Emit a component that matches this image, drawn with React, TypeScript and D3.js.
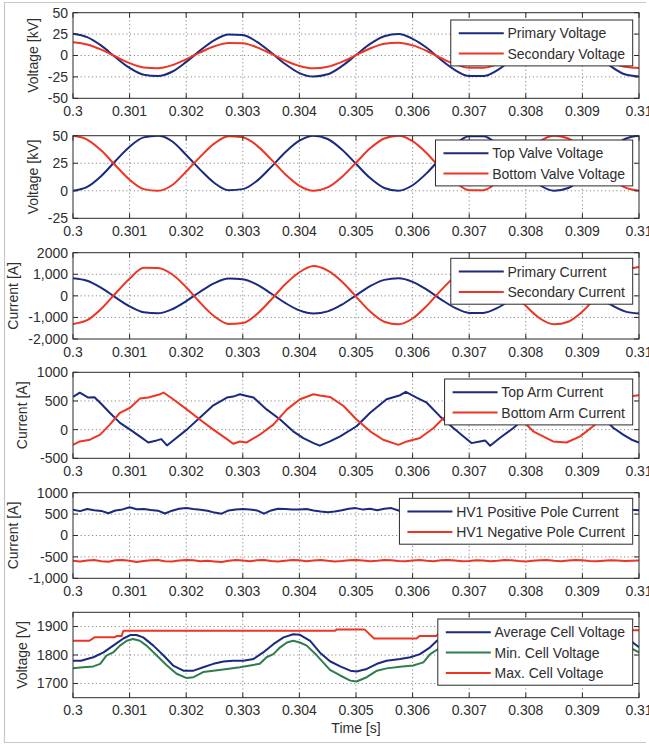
import * as d3 from "d3";
import React, { useEffect, useRef } from "react";

// time grids (s)
const tGrid41 = d3.range(41).map((i) => 0.3 + i * 0.00025);
const tGrid81 = d3.range(81).map((i) => 0.3 + i * 0.000125);

const xTicks = [0.3, 0.301, 0.302, 0.303, 0.304, 0.305, 0.306, 0.307, 0.308, 0.309, 0.31];
const xTickLabels = ["0.3", "0.301", "0.302", "0.303", "0.304", "0.305", "0.306", "0.307", "0.308", "0.309", "0.31"];

// panel 1 - kV
const primaryVoltage = [25.5, 21.5, 11.5, -2, -14.5, -22.5, -24, -19, -7.5, 6, 18, 24.5, 24, 16, 3.5, -10, -20.5, -24.5, -22, -12.5, 0.5, 13.5, 22.5, 25, 19.5, 9, -5, -17, -24, -24, -17, -5, 9, 19.5, 25, 22.5, 13.5, 0.5, -12.5, -22, -24.5];
const secondaryVoltage = [15.5, 12.8, 6.8, -1.2, -8.9, -13.9, -14.8, -11.3, -4.5, 3.7, 10.8, 14.6, 14.2, 9.5, 2.1, -6, -12.3, -15, -13.2, -7.5, 0.4, 8.2, 13.6, 14.9, 11.8, 5.3, -2.9, -10.2, -14.4, -14.4, -10.2, -2.9, 5.3, 11.8, 14.9, 13.6, 8.2, 0.4, -7.5, -13.2, -14.5];

// panel 2 - kV
const topValveVoltage = [0, 3.5, 13.5, 27, 40, 48.5, 50, 45, 32.5, 19, 7, 0.5, 1.5, 9, 21.5, 35, 45.5, 50, 47, 37.5, 24.5, 11.5, 2.5, 0, 5, 16, 30, 42, 49.5, 49.5, 42, 30, 16, 5, 0, 2.5, 11.5, 24, 37.5, 47, 50];
const bottomValveVoltage = [50, 46.5, 36.5, 23, 10, 1.5, 0, 5, 17.5, 31, 43, 49.5, 48.5, 41, 28.5, 15, 4.5, 0, 3, 12.5, 25.5, 38.5, 47.5, 50, 45, 34, 20, 8, 0.5, 0.5, 8, 20, 34, 45, 50, 47.5, 38.5, 26, 12.5, 3, 0];

// panel 3 - A
const primaryCurrent = [820, 700, 370, -70, -485, -760, -810, -620, -245, 200, 590, 800, 775, 520, 110, -330, -675, -820, -720, -410, 25, 450, 740, 815, 650, 285, -160, -555, -790, -790, -555, -160, 285, 650, 815, 740, 450, 25, -410, -720, -820];
const secondaryCurrent = [-1300, -1130, -600, 110, 790, 1300, 1290, 1000, 400, -325, -955, -1300, -1260, -845, -180, 535, 1095, 1380, 1170, 665, -35, -730, -1200, -1320, -1050, -465, 255, 900, 1280, 1280, 900, 255, -465, -1050, -1320, -1200, -730, -35, 665, 1170, 1340];

// panel 4 - A, [t, value]
const topArmCurrent: [number, number][] = [
  [0.3, 570], [0.30012, 645], [0.30027, 560], [0.30038, 565], [0.30048, 470], [0.30065, 294], [0.30083, 118],
  [0.30101, 0], [0.30118, -118], [0.30133, -224], [0.30148, -188], [0.30156, -165], [0.30166, -276], [0.30177, -188],
  [0.30201, 0], [0.30224, 206], [0.30248, 424], [0.30272, 559], [0.30283, 576], [0.30295, 618], [0.30307, 588],
  [0.30319, 559], [0.30342, 353], [0.30366, 176], [0.30389, -29], [0.30407, -147], [0.30425, -235], [0.30436, -279],
  [0.30454, -206], [0.30472, -118], [0.30501, 59], [0.30525, 294], [0.30554, 529], [0.30578, 600], [0.30588, 659],
  [0.30607, 559], [0.30625, 470], [0.30648, 235], [0.30672, 29], [0.3069, -118], [0.30704, -235], [0.30719, -206],
  [0.30728, -188], [0.30737, -282], [0.30754, -147], [0.30778, 29], [0.3081, 300], [0.3084, 520], [0.3087, 610],
  [0.3089, 580], [0.3091, 420], [0.30935, 220], [0.30955, 29], [0.30972, -88], [0.30987, -176], [0.31, -224],
];
const bottomArmCurrent: [number, number][] = [
  [0.3, -265], [0.30012, -206], [0.3003, -176], [0.30048, -88], [0.30065, 88], [0.30083, 294], [0.30101, 382],
  [0.30118, 541], [0.30133, 559], [0.30154, 618], [0.3016, 647], [0.30177, 529], [0.30201, 353], [0.30224, 176],
  [0.30248, 0], [0.30272, -165], [0.30283, -247], [0.30295, -206], [0.30307, -224], [0.3033, -88], [0.30354, 88],
  [0.30378, 353], [0.30401, 529], [0.30425, 618], [0.30436, 595], [0.30454, 570], [0.30478, 412], [0.30501, 176],
  [0.30525, -29], [0.30548, -176], [0.30575, -265], [0.3059, -206], [0.30613, -147], [0.30637, 29], [0.30652, 176],
  [0.3068, 400], [0.3071, 580], [0.3073, 630], [0.3075, 560], [0.3078, 300], [0.30813, -29], [0.30848, -206],
  [0.30872, -224], [0.30896, -118], [0.30919, 59], [0.30945, 300], [0.30965, 500], [0.30989, 588], [0.31, 600],
];

// panel 5 - A
const posPoleCurrent = [
  605, 570, 620, 590, 575, 520, 585, 610, 660, 615,
  620, 595, 580, 515, 580, 625, 645, 620, 600, 580,
  535, 510, 585, 610, 620, 605, 585, 510, 585, 625,
  620, 605, 610, 620, 585, 560, 545, 560, 590, 625,
  640, 605, 625, 590, 625, 640, 585, 540, 530, 590,
  610, 580, 620, 600, 570, 610, 620, 590, 560, 600,
  625, 610, 590, 570, 610, 620, 595, 575, 605, 625,
  600, 580, 560, 600, 615, 590, 575, 610, 620, 600,
  590,
];
const negPoleCurrent = [
  -590, -610, -585, -575, -600, -615, -580, -570, -590, -620,
  -595, -580, -575, -600, -610, -585, -570, -580, -600, -590,
  -605, -620, -590, -575, -585, -600, -580, -570, -595, -605,
  -590, -575, -580, -600, -585, -570, -590, -605, -595, -580,
  -570, -585, -600, -590, -575, -580, -595, -600, -585, -575,
  -590, -600, -580, -570, -585, -600, -595, -580, -585, -600,
  -590, -575, -580, -595, -605, -590, -580, -575, -590, -600,
  -585, -575, -580, -595, -600, -590, -580, -585, -595, -590,
  -585,
];

// panel 6 - V, [t, value]
const avgCellVoltage: [number, number][] = [
  [0.3, 1780], [0.30014, 1780], [0.30036, 1792], [0.30054, 1809], [0.30071, 1833], [0.30089, 1858], [0.30101, 1870],
  [0.30112, 1870], [0.30124, 1862], [0.30142, 1833], [0.3016, 1798], [0.30177, 1763], [0.30195, 1745], [0.30213, 1745],
  [0.3023, 1757], [0.30248, 1769], [0.30266, 1777], [0.30283, 1780], [0.30301, 1780], [0.30319, 1786], [0.30336, 1809],
  [0.30354, 1838], [0.30372, 1862], [0.30389, 1873], [0.30401, 1871], [0.30419, 1850], [0.30436, 1809], [0.30454, 1778],
  [0.30472, 1760], [0.3049, 1745], [0.30501, 1742], [0.30519, 1751], [0.30537, 1769], [0.30554, 1780], [0.30578, 1786],
  [0.30596, 1792], [0.30613, 1803], [0.30631, 1827], [0.30643, 1850], [0.3066, 1866], [0.3068, 1872], [0.307, 1866],
  [0.3072, 1835], [0.3074, 1798], [0.3076, 1765], [0.3078, 1746], [0.308, 1746], [0.3082, 1758], [0.3084, 1770],
  [0.3086, 1778], [0.3088, 1780], [0.309, 1782], [0.3092, 1790], [0.3094, 1815], [0.3096, 1855], [0.30972, 1862],
  [0.30989, 1844], [0.31, 1827],
];
const minCellVoltage: [number, number][] = [
  [0.3, 1753], [0.30018, 1757], [0.30036, 1760], [0.30048, 1769], [0.30059, 1798], [0.30071, 1809], [0.30083, 1833],
  [0.30095, 1850], [0.30106, 1856], [0.30118, 1850], [0.3013, 1833], [0.30148, 1798], [0.30166, 1763], [0.30183, 1734],
  [0.30201, 1719], [0.30213, 1722], [0.3023, 1740], [0.30248, 1745], [0.30272, 1751], [0.30295, 1757], [0.30313, 1763],
  [0.3033, 1769], [0.30342, 1792], [0.30354, 1803], [0.30366, 1827], [0.30378, 1844], [0.30389, 1850], [0.30401, 1844],
  [0.30413, 1833], [0.30431, 1798], [0.30454, 1748], [0.30472, 1728], [0.3049, 1710], [0.30501, 1707], [0.30519, 1722],
  [0.30537, 1745], [0.30554, 1753], [0.30578, 1759], [0.30601, 1763], [0.30619, 1774], [0.30631, 1803], [0.30645, 1821],
  [0.3066, 1845], [0.3068, 1852], [0.307, 1843], [0.3072, 1805], [0.3074, 1765], [0.3076, 1730], [0.3078, 1712],
  [0.308, 1720], [0.3082, 1742], [0.3084, 1750], [0.3086, 1757], [0.3088, 1762], [0.309, 1768], [0.3092, 1790],
  [0.3094, 1825], [0.3096, 1845], [0.30972, 1848], [0.30989, 1821], [0.31, 1809],
];
const maxCellVoltage: [number, number][] = [
  [0.3, 1850], [0.30029, 1850], [0.30038, 1862], [0.30074, 1862], [0.30077, 1867], [0.30086, 1867], [0.30089, 1885],
  [0.30463, 1885], [0.30466, 1890], [0.30515, 1890], [0.30532, 1858], [0.30607, 1858], [0.30612, 1867], [0.30642, 1867],
  [0.3065, 1885], [0.31, 1887],
];

const BLUE = "#1b2a7e";
const RED = "#ee3524";
const GREEN = "#2f7d4f";
const FONT = "'Liberation Sans', Arial, sans-serif";

const onGrid = (grid: number[], vals: number[]): [number, number][] => vals.map((v, i) => [grid[i], v]);

const panels = [
  {
    top: 12.7, bottom: 98.3, domain: [-50, 50], yTicks: [50, 25, 0, -25, -50], yLabels: ["50", "25", "0", "-25", "-50"],
    ylabel: "Voltage [kV]", legendTop: 20, smooth: true,
    series: [
      { name: "Primary Voltage", color: BLUE, data: onGrid(tGrid41, primaryVoltage) },
      { name: "Secondary Voltage", color: RED, data: onGrid(tGrid41, secondaryVoltage) },
    ],
  },
  {
    top: 135.7, bottom: 218.3, domain: [-25, 50], yTicks: [50, 25, 0, -25], yLabels: ["50", "25", "0", "-25"],
    ylabel: "Voltage [kV]", legendTop: 140, smooth: true,
    series: [
      { name: "Top Valve Voltage", color: BLUE, data: onGrid(tGrid41, topValveVoltage) },
      { name: "Bottom Valve Voltage", color: RED, data: onGrid(tGrid41, bottomValveVoltage) },
    ],
  },
  {
    top: 252.7, bottom: 339, domain: [-2000, 2000], yTicks: [2000, 1000, 0, -1000, -2000],
    yLabels: ["2000", "1,000", "0", "-1,000", "-2,000"], ylabel: "Current [A]", legendTop: 258.3, smooth: true,
    series: [
      { name: "Primary Current", color: BLUE, data: onGrid(tGrid41, primaryCurrent) },
      { name: "Secondary Current", color: RED, data: onGrid(tGrid41, secondaryCurrent) },
    ],
  },
  {
    top: 372.3, bottom: 458.3, domain: [-500, 1000], yTicks: [1000, 500, 0, -500], yLabels: ["1000", "500", "0", "-500"],
    ylabel: "Current [A]", legendTop: 379, smooth: false,
    series: [
      { name: "Top Arm Current", color: BLUE, data: topArmCurrent },
      { name: "Bottom Arm Current", color: RED, data: bottomArmCurrent },
    ],
  },
  {
    top: 492.7, bottom: 578.3, domain: [-1000, 1000], yTicks: [1000, 500, 0, -500, -1000],
    yLabels: ["1000", "500", "0", "-500", "-1,000"], ylabel: "Current [A]", legendTop: 498.3, smooth: false,
    series: [
      { name: "HV1 Positive Pole Current", color: BLUE, data: onGrid(tGrid81, posPoleCurrent) },
      { name: "HV1 Negative Pole Current", color: RED, data: onGrid(tGrid81, negPoleCurrent) },
    ],
  },
  {
    top: 612.3, bottom: 697.7, domain: [1650, 1950], yTicks: [1900, 1800, 1700], yLabels: ["1900", "1800", "1700"],
    ylabel: "Voltage [V]", legendTop: 619, smooth: false,
    series: [
      { name: "Average Cell Voltage", color: BLUE, data: avgCellVoltage },
      { name: "Min. Cell Voltage", color: GREEN, data: minCellVoltage },
      { name: "Max. Cell Voltage", color: RED, data: maxCellVoltage },
    ],
  },
];

const W = 649;
const H = 748;

export default function App() {
  const svgRef = useRef<SVGSVGElement>(null);

  useEffect(() => {
    const svg = d3.select(svgRef.current);
    svg.selectAll("*").remove();

    svg.append("rect").attr("width", W).attr("height", H).attr("fill", "#fff");
    // outer figure frame
    svg.append("path")
      .attr("d", "M646,2.5H4.5V742.5H646")
      .attr("fill", "none")
      .attr("stroke", "#c8c8c8")
      .attr("stroke-width", 1.2);

    const x = d3.scaleLinear().domain([0.3, 0.31]).range([73, 639]);

    panels.forEach((p, i) => {
      const y = d3.scaleLinear().domain(p.domain).range([p.bottom, p.top]);
      const g = svg.append("g");
      const [x0, x1] = x.range();

      g.append("rect").attr("x", x0).attr("y", p.top).attr("width", x1 - x0)
        .attr("height", p.bottom - p.top).attr("fill", "#fff");

      // grid
      const grid = g.append("g").attr("stroke", "#8a8a8a").attr("stroke-width", 1)
        .attr("stroke-dasharray", "1.2,2.6");
      xTicks.slice(1, -1).forEach((t) => {
        grid.append("line").attr("x1", x(t)).attr("x2", x(t)).attr("y1", p.top).attr("y2", p.bottom);
      });
      p.yTicks.filter((v) => v > p.domain[0] && v < p.domain[1]).forEach((v) => {
        grid.append("line").attr("x1", x0).attr("x2", x1).attr("y1", y(v)).attr("y2", y(v));
      });

      // lines
      svg.append("clipPath").attr("id", `clip${i}`)
        .append("rect").attr("x", x0).attr("y", p.top).attr("width", x1 - x0).attr("height", p.bottom - p.top);
      const line = d3.line<[number, number]>()
        .x((d) => x(d[0]))
        .y((d) => y(d[1]))
        .curve(p.smooth ? d3.curveMonotoneX : d3.curveLinear);
      p.series.forEach((s) => {
        g.append("path").datum(s.data).attr("clip-path", `url(#clip${i})`)
          .attr("fill", "none").attr("stroke", s.color).attr("stroke-width", 2)
          .attr("stroke-linejoin", "round").attr("d", line);
      });

      // box and ticks
      g.append("rect").attr("x", x0).attr("y", p.top).attr("width", x1 - x0)
        .attr("height", p.bottom - p.top).attr("fill", "none").attr("stroke", "#2b2b2b").attr("stroke-width", 1);
      const tk = g.append("g").attr("stroke", "#2b2b2b").attr("stroke-width", 1);
      xTicks.forEach((t) => {
        tk.append("line").attr("x1", x(t)).attr("x2", x(t)).attr("y1", p.top).attr("y2", p.top + 5);
        tk.append("line").attr("x1", x(t)).attr("x2", x(t)).attr("y1", p.bottom).attr("y2", p.bottom - 5);
      });
      p.yTicks.forEach((v) => {
        tk.append("line").attr("x1", x0).attr("x2", x0 + 5).attr("y1", y(v)).attr("y2", y(v));
        tk.append("line").attr("x1", x1).attr("x2", x1 - 5).attr("y1", y(v)).attr("y2", y(v));
      });

      // tick labels
      const txt = g.append("g").attr("font-family", FONT).attr("font-size", 14).attr("fill", "#2e2e2e");
      xTicks.forEach((t, j) => {
        txt.append("text").attr("x", x(t)).attr("y", p.bottom + 17.5)
          .attr("text-anchor", "middle").text(xTickLabels[j]);
      });
      let maxW = 0;
      p.yTicks.forEach((v, j) => {
        const el = txt.append("text").attr("x", 68).attr("y", y(v)).attr("dy", "0.35em")
          .attr("text-anchor", "end").text(p.yLabels[j]);
        maxW = Math.max(maxW, (el.node() as SVGTextElement).getComputedTextLength());
      });
      const lx = 68 - maxW - 15;
      const ly = (p.top + p.bottom) / 2;
      txt.append("text").attr("transform", `translate(${lx},${ly}) rotate(-90)`)
        .attr("dy", "0.35em").attr("text-anchor", "middle").text(p.ylabel);

      // legend
      const lg = g.append("g");
      const box = lg.append("rect").attr("fill", "#fff").attr("stroke", "#2b2b2b").attr("stroke-width", 1);
      const rowY = (j: number) => p.legendTop + 13.3 + j * 20.3;
      const samples = p.series.map((s, j) =>
        lg.append("line").attr("y1", rowY(j)).attr("y2", rowY(j)).attr("stroke", s.color).attr("stroke-width", 2)
      );
      let tw = 0;
      const labels = p.series.map((s, j) => {
        const el = lg.append("text").attr("y", rowY(j)).attr("dy", "0.35em").attr("font-family", FONT)
          .attr("font-size", 14).attr("fill", "#2e2e2e").text(s.name);
        tw = Math.max(tw, (el.node() as SVGTextElement).getComputedTextLength());
        return el;
      });
      const right = 632.7;
      const left = right - (56.7 + tw + 7.7);
      const bottom = rowY(p.series.length - 1) + 12.3;
      box.attr("x", left).attr("y", p.legendTop).attr("width", right - left).attr("height", bottom - p.legendTop);
      samples.forEach((l) => l.attr("x1", left + 8).attr("x2", left + 53));
      labels.forEach((l) => l.attr("x", left + 56.7));
    });

    svg.append("text").attr("x", 356).attr("y", 733).attr("text-anchor", "middle")
      .attr("font-family", FONT).attr("font-size", 14).attr("fill", "#2e2e2e").text("Time [s]");
  }, []);

  return (
    <svg
      ref={svgRef}
      width={W}
      height={H}
      style={{ position: "absolute", left: 0, top: 0, display: "block" }}
    ></svg>
  );
}
